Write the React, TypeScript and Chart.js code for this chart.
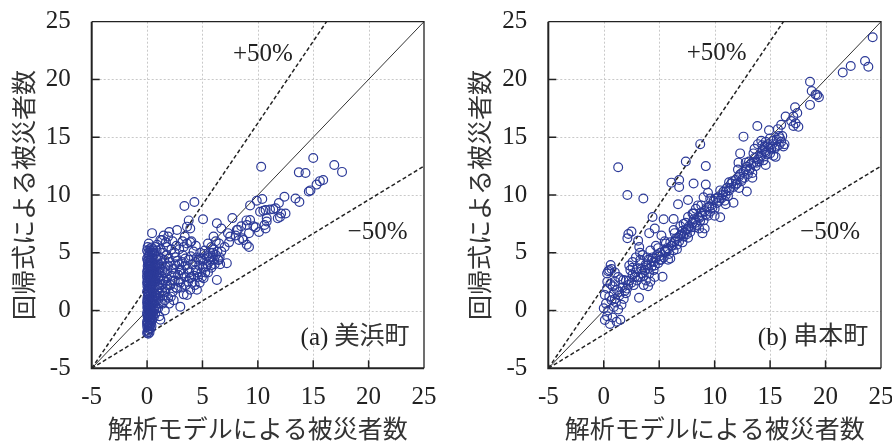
import React, { useEffect, useRef } from 'react';
import { Chart, registerables } from 'chart.js';

Chart.register(...registerables);

// ---------- data ----------
const AXIS_MIN = -5;
const AXIS_MAX = 25;
const AXIS_STEP = 5;
const GRID_VALUES = [0, 5, 10, 15, 20];
const TICK_MARK_VALUES = [0, 5, 10, 15, 20];

const X_TITLE = '解析モデルによる被災者数';
const Y_TITLE = '回帰式による被災者数';
const PLUS_LABEL = '+50%';
const MINUS_LABEL = '−50%';
const PANEL_A_TAG = '(a) ';
const PANEL_A_NAME = '美浜町';
const PANEL_B_TAG = '(b) ';
const PANEL_B_NAME = '串本町';

const EQUAL_LINE: [number, number][] = [[-5, -5], [25, 25]];
const PLUS_LINE: [number, number][] = [[-5, -5], [16.2, 25]];
const MINUS_LINE: [number, number][] = [[-5, -5], [25, 12.5]];

const mihamaPoints: [number, number][] = [
  [0.0, -1.95], [0.05, -1.75], [0.12, -2.0], [0.18, -1.6], [0.02, -1.45], [0.25, -1.3], [0.08, -1.15], [0.35, -1.1],
  [0.0, -0.95], [0.15, -0.8], [0.28, -0.7], [0.45, -0.85], [0.05, -0.55], [0.2, -0.35], [0.38, -0.45], [0.0, -0.2],
  [0.12, 0.0], [0.3, 0.05], [0.48, -0.15], [0.02, 0.3], [0.18, 0.4], [0.35, 0.5], [0.52, 0.25], [0.0, 0.7],
  [0.1, 0.9], [0.25, 0.8], [0.42, 1.0], [0.05, 1.2], [0.2, 1.3], [0.36, 1.45], [0.0, 1.65], [0.14, 1.75],
  [0.3, 1.9], [0.48, 1.65], [0.03, 2.1], [0.18, 2.25], [0.38, 2.35], [0.06, 2.6], [0.22, 2.7], [0.44, 2.85],
  [0.0, 3.0], [0.14, 3.2], [0.32, 3.3], [0.06, 3.6], [0.24, 3.8], [0.45, 3.55], [0.1, 4.1], [0.3, 4.3],
  [0.0, 4.5], [0.18, 4.8], [0.42, 4.6], [0.1, 5.0], [0.32, 5.2], [0.05, 5.5], [0.15, 5.8], [0.45, 6.7],
  [0.0, -1.2], [0.1, -0.4], [0.2, 0.2], [0.05, 0.5], [0.3, 1.1], [0.15, 1.5], [0.0, 2.4], [0.25, 2.0],
  [0.4, 3.0], [0.1, 3.4], [0.3, 3.9], [0.2, 4.4],
  [0.08, -1.85], [0.22, -1.9], [0.32, -1.55], [0.4, -1.35], [0.15, -1.35], [0.05, -1.05], [0.22, -1.0], [0.32, -0.9],
  [0.1, -0.65], [0.4, -0.6], [0.25, -0.5], [0.02, -0.35], [0.34, -0.2], [0.18, -0.1], [0.05, 0.15], [0.4, 0.2],
  [0.25, 0.35], [0.12, 0.6], [0.45, 0.65], [0.3, 0.75], [0.02, 0.95], [0.18, 1.05], [0.48, 1.25], [0.1, 1.45],
  [0.28, 1.6], [0.42, 1.8], [0.08, 1.9], [0.2, 2.05], [0.32, 2.15], [0.48, 2.2], [0.1, 2.35], [0.3, 2.5],
  [0.5, 2.5], [0.02, 2.8], [0.35, 2.65], [0.15, 2.95], [0.25, 3.1], [0.45, 3.2], [0.0, 3.35], [0.35, 3.5],
  [0.2, 3.55], [0.05, 3.85], [0.4, 3.75], [0.15, 3.95], [0.45, 4.05], [0.25, 4.15], [0.05, 4.3], [0.35, 4.5],
  [0.12, 4.65], [0.28, 4.9], [0.48, 5.0], [0.2, 5.3], [0.4, 5.45], [0.0, 5.2],
  [0.6, -0.6], [0.72, -0.3], [0.58, 0.6], [0.66, 1.2], [0.8, 0.9], [0.6, 2.0], [0.75, 2.5], [0.9, 1.8],
  [0.62, 3.1], [0.82, 3.4], [0.7, 4.0], [0.92, 4.4], [0.66, 4.9], [0.86, 5.2], [0.9, 5.7], [1.0, 0.2],
  [1.1, -0.5], [1.2, -0.8], [1.02, 1.0], [1.12, 1.5], [1.25, 2.2], [1.0, 2.8], [1.3, 3.0], [1.15, 3.6],
  [1.32, 4.1], [1.02, 4.7], [1.22, 5.3], [1.35, 6.1], [1.5, 6.5], [1.2, 6.1], [1.4, 0.6], [1.5, 1.3],
  [0.55, -0.2], [0.65, 0.1], [0.75, 0.4], [0.85, 0.2], [0.55, 1.0], [0.7, 1.5], [0.85, 1.3], [0.95, 2.2],
  [0.55, 2.6], [0.68, 2.9], [0.8, 3.0], [0.95, 3.1], [0.55, 3.7], [0.75, 3.8], [0.9, 3.9], [0.6, 4.4],
  [0.8, 4.6], [0.55, 5.3], [0.75, 5.5], [1.05, 0.6], [1.2, 1.2], [1.35, 1.7], [1.1, 2.0], [1.2, 2.6],
  [1.4, 2.3], [1.05, 3.3], [1.4, 3.5], [1.1, 4.0], [1.25, 4.5], [1.45, 5.0], [1.6, 0.9], [1.65, 1.6],
  [1.8, 2.2], [1.7, 2.5], [1.85, 3.4], [1.65, 3.8], [1.95, 4.5], [1.7, 5.9], [1.9, 6.4],
  [1.6, 0.0], [1.7, 1.9], [1.45, 2.6], [1.6, 3.3], [1.8, 2.8], [1.55, 4.4], [1.75, 4.8], [1.9, 3.9],
  [1.9, 1.1], [2.0, 0.6], [2.1, 2.2], [2.2, 3.0], [2.05, 4.2], [2.3, 1.6], [2.4, 0.9], [2.5, 2.6],
  [2.35, 3.6], [2.6, 4.6], [2.2, 5.3], [2.7, 1.9], [2.8, 3.1], [2.9, 4.0], [2.65, 5.6], [2.7, 6.97],
  [2.5, 5.0], [1.8, 5.5], [2.9, 5.3],
  [2.15, 1.2], [2.3, 2.6], [2.45, 3.2], [2.6, 2.0], [2.55, 4.0], [2.75, 4.3], [2.85, 2.5], [2.95, 3.5],
  [3.1, 2.0], [3.15, 4.2], [3.3, 3.2], [3.45, 4.5], [3.5, 2.2], [3.65, 3.6], [3.85, 2.8], [3.95, 4.7],
  [4.1, 2.4], [4.25, 3.0], [4.35, 4.2], [4.55, 3.3], [4.65, 4.4], [4.75, 2.4], [4.85, 4.5], [4.95, 2.9],
  [5.05, 3.7], [5.15, 4.9], [5.25, 3.3], [5.45, 4.0], [5.6, 4.6], [5.75, 3.9], [5.95, 5.0], [6.05, 4.4],
  [6.35, 5.1], [6.55, 4.6], [7.0, 5.5], [7.4, 5.9], [8.0, 6.5], [8.5, 7.3], [3.9, 7.1], [3.4, 6.4],
  [2.3, 6.0], [2.0, 6.8],
  [3.0, 0.33], [3.0, 2.4], [3.1, 3.5], [3.2, 4.8], [3.3, 1.4], [3.4, 2.9], [3.5, 3.9], [3.3, 5.5],
  [3.6, 1.35], [3.7, 2.5], [3.8, 3.3], [3.75, 4.4], [3.6, 5.8], [3.9, 1.8], [4.0, 2.9], [4.1, 4.0],
  [4.2, 5.1], [4.3, 2.2], [4.4, 3.5], [4.5, 1.8], [4.5, 4.6], [4.6, 2.9], [4.7, 3.9], [4.8, 5.0],
  [4.9, 3.3], [3.37, 9.05], [4.27, 9.4], [3.76, 7.8], [3.6, 7.26], [5.05, 7.9], [3.9, 5.9], [4.4, 5.6],
  [4.0, 6.0], [3.2, 6.0],
  [5.0, 4.3], [5.1, 2.8], [5.2, 5.2], [5.3, 3.8], [5.4, 4.7], [5.5, 3.3], [5.6, 4.2], [5.7, 5.0],
  [5.8, 3.7], [5.9, 4.6], [6.0, 5.3], [6.1, 4.0], [6.3, 2.65], [6.2, 4.8], [6.4, 4.4], [6.5, 5.8],
  [6.6, 4.0], [6.7, 5.1], [7.2, 4.1], [6.47, 4.38], [6.3, 7.55], [6.7, 7.1], [6.0, 6.4], [7.3, 6.7],
  [7.5, 6.4], [7.7, 8.0], [5.5, 5.8], [6.2, 6.0], [5.8, 5.5],
  [8.2, 7.0], [8.3, 6.1], [8.7, 6.1], [9.0, 5.7], [9.2, 5.5], [8.97, 7.8], [9.0, 7.4], [9.2, 6.7],
  [9.6, 7.3], [10.1, 6.8], [9.3, 9.1], [9.9, 9.5], [10.4, 9.65], [10.2, 8.55], [10.7, 8.7], [11.1, 8.75],
  [11.6, 8.85], [10.8, 7.7], [10.7, 7.1], [11.9, 9.3], [12.0, 8.1], [12.5, 8.4], [12.4, 9.85], [8.1, 6.97],
  [8.6, 6.25], [10.6, 7.4], [10.8, 7.98], [11.8, 7.98], [12.1, 8.4], [9.8, 7.2], [10.5, 8.64], [11.4, 8.76],
  [9.3, 7.84], [10.3, 12.45],
  [13.4, 9.7], [13.75, 9.4], [14.6, 10.3], [14.75, 10.4], [15.3, 10.9], [15.9, 11.3], [15.6, 11.2], [13.7, 11.96],
  [14.3, 11.9], [15.0, 13.2], [16.9, 12.6], [17.6, 12.0],
];

const kushimotoPoints: [number, number][] = [
  [0.1, -0.82], [0.56, -1.17], [1.16, -0.97], [1.5, -0.8], [0.3, -0.5], [0.8, -0.6], [0.0, 0.2], [0.4, 0.0],
  [0.9, 0.3], [1.3, 0.1], [0.2, 0.6], [0.7, 0.9], [1.1, 0.7], [1.6, 0.5], [0.1, 1.35], [0.5, 1.2],
  [0.9, 1.5], [1.4, 1.3], [1.8, 1.0], [0.3, 1.9], [0.8, 2.1], [1.2, 1.8], [1.7, 2.0], [0.6, 2.3],
  [1.0, 2.5], [1.5, 2.7], [0.32, 2.5], [2.0, 1.5], [2.2, 2.2],
  [0.62, 3.94], [0.5, 3.5], [0.4, 3.4], [0.7, 3.6], [0.3, 3.2], [1.0, 3.3], [1.3, 2.9],
  [1.77, 2.64], [2.4, 3.5], [2.8, 2.9], [3.27, 4.1], [3.7, 3.5], [4.0, 4.4], [4.3, 3.8], [2.1, 1.9],
  [2.5, 2.4], [2.6, 3.1], [3.0, 2.6], [3.0, 3.6], [3.3, 2.9], [3.5, 3.2], [3.8, 2.6], [3.9, 3.9],
  [4.1, 3.2], [4.2, 2.5], [4.4, 4.6], [4.6, 3.9], [4.5, 4.2], [4.8, 4.8], [4.9, 4.1], [5.07, 4.38],
  [5.1, 5.0], [3.18, 1.1], [5.3, 2.93], [2.6, 4.2], [2.9, 4.6], [3.5, 4.8], [4.2, 5.2], [4.7, 5.6],
  [2.3, 3.9], [3.6, 2.2], [4.6, 2.9], [4.0, 2.1],
  [1.0, 1.0], [1.4, 1.6], [1.9, 1.7], [2.3, 2.6], [2.7, 2.2], [2.9, 3.3], [3.1, 2.9], [3.4, 3.6],
  [3.6, 3.0], [3.8, 4.0], [4.0, 3.6], [4.3, 4.3], [4.5, 3.5], [4.7, 4.5], [5.0, 4.7], [5.2, 4.4],
  [2.0, 2.6], [2.6, 3.7], [3.3, 4.4], [3.9, 4.6], [4.9, 5.4],
  [5.4, 4.6], [5.6, 5.1], [5.7, 5.4], [5.9, 4.9], [6.1, 5.6], [6.3, 5.2], [6.6, 5.7], [6.5, 6.2],
  [6.8, 6.0], [7.0, 6.6], [7.2, 6.4], [7.4, 7.0], [7.5, 6.6], [7.7, 7.3], [7.8, 6.8], [8.0, 7.6],
  [8.2, 7.2], [8.4, 7.4], [8.5, 8.1], [8.7, 7.8], [8.8, 8.5], [9.0, 7.8], [9.1, 8.6], [9.3, 8.9],
  [9.4, 8.2], [9.6, 8.56], [9.7, 9.1], [9.9, 9.5], [10.0, 8.8], [10.2, 9.3], [10.3, 9.8], [10.5, 8.07],
  [8.9, 6.7], [9.1, 7.1], [6.0, 4.5], [7.1, 5.9],
  [5.5, 5.2], [5.8, 5.3], [6.0, 5.9], [6.2, 5.6], [6.4, 6.0], [6.7, 6.3], [6.9, 6.5], [7.1, 6.9],
  [7.3, 6.7], [7.6, 7.1], [7.9, 7.2], [8.1, 7.9], [8.3, 7.6], [8.6, 8.0], [8.9, 8.2], [9.2, 8.3],
  [9.5, 9.0], [9.8, 8.9], [10.1, 9.7], [10.4, 9.5], [5.6, 5.8], [6.4, 6.7], [6.9, 7.3], [7.4, 7.6],
  [8.1, 8.4], [8.8, 9.1], [9.6, 9.7], [5.8, 4.4], [6.6, 5.3], [7.6, 6.3], [8.6, 7.1], [10.0, 8.2],
  [2.13, 10.0], [3.57, 9.7], [1.3, 12.4], [6.1, 11.07], [6.8, 11.3], [6.8, 10.7], [8.1, 11.0], [9.2, 10.9],
  [6.7, 9.2], [7.6, 9.57], [8.5, 9.1], [4.4, 8.1], [5.4, 7.9], [6.3, 7.92], [4.6, 7.1], [4.1, 6.7],
  [2.5, 6.83], [2.22, 6.63], [2.13, 6.25], [3.1, 6.05], [3.2, 5.5], [3.27, 5.0], [7.4, 12.9], [8.7, 14.4],
  [9.2, 12.5], [6.3, 6.97], [5.2, 6.5], [5.5, 6.0], [7.2, 7.5], [7.6, 8.1], [8.0, 8.4], [8.3, 8.8],
  [9.0, 9.8], [9.4, 10.2],
  [10.6, 9.7], [10.8, 10.3], [11.0, 10.0], [11.1, 10.6], [11.3, 10.4], [11.5, 11.0], [11.7, 10.7], [11.7, 9.33],
  [11.9, 11.3], [12.0, 11.0], [12.2, 11.6], [12.4, 11.2], [12.6, 12.0], [12.9, 10.3], [12.9, 12.45], [13.0, 11.8],
  [13.2, 12.3], [13.4, 11.9], [13.5, 12.8], [13.7, 12.5], [13.9, 13.1], [14.0, 12.9], [14.2, 13.4], [14.4, 13.0],
  [14.5, 13.8], [14.7, 13.5], [14.9, 14.1], [15.0, 13.6], [12.15, 12.8], [12.3, 13.6], [12.6, 15.05], [13.85, 15.97],
  [14.9, 15.6], [13.6, 14.0], [13.9, 14.4], [14.2, 14.7], [14.5, 14.2], [15.2, 14.4], [15.4, 14.0], [15.6, 14.8],
  [15.8, 14.3], [16.0, 14.6], [16.2, 14.2], [15.3, 13.4], [15.5, 13.3], [11.2, 9.9], [10.9, 9.5], [12.7, 11.5],
  [13.1, 12.9], [14.6, 14.6], [15.8, 15.1],
  [10.7, 10.0], [11.0, 10.3], [11.4, 10.6], [11.6, 11.2], [11.9, 10.9], [12.3, 11.8], [12.5, 11.4], [12.8, 12.2],
  [13.1, 12.1], [13.3, 12.7], [13.6, 13.2], [13.8, 12.8], [14.1, 13.3], [14.3, 13.9], [14.6, 13.7], [14.8, 14.4],
  [15.1, 14.0], [15.3, 14.7], [15.6, 14.2], [15.9, 14.9], [16.1, 15.1], [16.3, 14.4], [10.5, 10.4], [11.3, 11.1],
  [12.1, 12.2], [12.8, 12.8], [13.5, 13.6], [14.3, 14.3], [15.0, 14.9], [11.0, 9.2], [12.2, 10.6], [13.4, 11.5],
  [14.6, 12.6],
  [16.4, 16.8], [16.0, 16.07], [15.7, 15.7], [17.25, 17.6], [17.45, 17.1], [17.1, 16.8], [17.55, 15.9], [17.1, 15.97],
  [16.9, 16.4], [17.3, 16.2], [18.6, 19.8], [18.75, 19.0], [19.25, 18.66], [19.4, 18.46], [19.1, 18.7], [18.6, 17.8],
  [21.55, 20.6], [22.27, 21.17], [23.56, 21.6], [23.86, 21.1], [24.25, 23.65],
];

// annotation anchors in data units (x = left/right edge, y = text baseline)
const PANEL_A_ANCHORS = { plus: [7.75, 21.6], minus: [18.1, 6.15], tag: [23.7, -2.95] };
const PANEL_B_ANCHORS = { plus: [7.48, 21.7], minus: [17.7, 6.2], tag: [23.85, -3.0] };

// ---------- styling ----------
const SERIF = '"Liberation Serif", "Times New Roman", serif';
const CJK = '"Noto Sans CJK JP", "Noto Sans", sans-serif';
const POINT_COLOR = 'rgb(44,58,152)';
const INK = '#222';

type PanelCfg = {
  points: [number, number][];
  tag: string;
  name: string;
  anchors: { plus: number[]; minus: number[]; tag: number[] };
  yAxisWidth: number;
  padRight: number;
  yTitlePad: number;
};

const toXY = (arr: [number, number][]) => arr.map(([x, y]) => ({ x, y }));

function makeChart(canvas: HTMLCanvasElement, cfg: PanelCfg) {
  const decor = {
    id: 'decor',
    beforeDatasetsDraw(chart: any) {
      const { ctx, chartArea: a, scales } = chart;
      const xs = scales.x;
      const ys = scales.y;
      ctx.save();
      ctx.strokeStyle = '#c9c9c9';
      ctx.lineWidth = 1;
      ctx.setLineDash([2, 2]);
      for (const v of GRID_VALUES) {
        const px = Math.round(xs.getPixelForValue(v)) + 0.5;
        ctx.beginPath();
        ctx.moveTo(px, a.top);
        ctx.lineTo(px, a.bottom);
        ctx.stroke();
        const py = Math.round(ys.getPixelForValue(v)) + 0.5;
        ctx.beginPath();
        ctx.moveTo(a.left, py);
        ctx.lineTo(a.right, py);
        ctx.stroke();
      }
      ctx.restore();
    },
    afterDatasetsDraw(chart: any) {
      const { ctx, chartArea: a, scales } = chart;
      const xs = scales.x;
      const ys = scales.y;
      ctx.save();
      ctx.setLineDash([]);
      ctx.strokeStyle = INK;
      ctx.lineWidth = 1.5;
      for (const v of TICK_MARK_VALUES) {
        const px = xs.getPixelForValue(v);
        ctx.beginPath();
        ctx.moveTo(px, a.bottom);
        ctx.lineTo(px, a.bottom - 8);
        ctx.stroke();
        const py = ys.getPixelForValue(v);
        ctx.beginPath();
        ctx.moveTo(a.left, py);
        ctx.lineTo(a.left + 8, py);
        ctx.stroke();
      }
      // frame
      ctx.lineWidth = 1.3;
      ctx.beginPath();
      ctx.moveTo(a.left, a.top);
      ctx.lineTo(a.right, a.top);
      ctx.lineTo(a.right, a.bottom);
      ctx.stroke();
      ctx.lineWidth = 2;
      ctx.beginPath();
      ctx.moveTo(a.left, a.top);
      ctx.lineTo(a.left, a.bottom);
      ctx.lineTo(a.right, a.bottom);
      ctx.stroke();

      // annotations
      ctx.fillStyle = INK;
      ctx.textBaseline = 'alphabetic';
      ctx.textAlign = 'left';
      ctx.font = `25px ${SERIF}`;
      ctx.fillText(PLUS_LABEL, xs.getPixelForValue(cfg.anchors.plus[0]), ys.getPixelForValue(cfg.anchors.plus[1]));
      ctx.fillText(MINUS_LABEL, xs.getPixelForValue(cfg.anchors.minus[0]), ys.getPixelForValue(cfg.anchors.minus[1]));
      const tagW = ctx.measureText(cfg.tag).width;
      ctx.font = `25px ${CJK}`;
      const nameW = ctx.measureText(cfg.name).width;
      const right = xs.getPixelForValue(cfg.anchors.tag[0]);
      const ty = ys.getPixelForValue(cfg.anchors.tag[1]);
      const start = right - tagW - nameW;
      ctx.font = `25px ${SERIF}`;
      ctx.fillText(cfg.tag, start, ty);
      ctx.font = `25px ${CJK}`;
      ctx.fillStyle = '#333';
      ctx.fillText(cfg.name, start + tagW, ty - 1);
      ctx.restore();
    },
  };

  const lineDs = (pts: [number, number][], dash: number[], width: number, color: string) => ({
    type: 'scatter' as const,
    data: toXY(pts),
    showLine: true,
    borderColor: color,
    borderWidth: width,
    borderDash: dash,
    pointRadius: 0,
    fill: false,
    order: 2,
  });

  return new Chart(canvas, {
    type: 'scatter',
    data: {
      datasets: [
        {
          data: toXY(cfg.points),
          pointStyle: 'circle',
          pointRadius: 4.4,
          borderWidth: 1.2,
          borderColor: POINT_COLOR,
          backgroundColor: 'rgba(0,0,0,0)',
          order: 1,
        } as any,
        lineDs(EQUAL_LINE, [], 1, '#333'),
        lineDs(PLUS_LINE, [4, 2.5], 1.5, INK),
        lineDs(MINUS_LINE, [4, 2.5], 1.5, INK),
      ],
    },
    options: {
      responsive: false,
      animation: false,
      events: [],
      layout: { padding: { left: 0, right: cfg.padRight, top: 21.7, bottom: 0 } },
      plugins: { legend: { display: false }, tooltip: { enabled: false } },
      scales: {
        x: {
          type: 'linear',
          min: AXIS_MIN,
          max: AXIS_MAX,
          grid: { display: false, drawTicks: false },
          border: { display: false },
          ticks: {
            stepSize: AXIS_STEP,
            autoSkip: false,
            maxRotation: 0,
            padding: 14,
            color: INK,
            font: { family: SERIF, size: 25 },
          },
          title: {
            display: true,
            text: X_TITLE,
            color: '#333',
            font: { family: CJK, size: 25, lineHeight: 1 },
            padding: { top: 0, bottom: 0 },
          },
          afterFit: (s: any) => {
            s.height = 72.7;
            s.paddingLeft = 0;
            s.paddingRight = 0;
          },
        },
        y: {
          type: 'linear',
          min: AXIS_MIN,
          max: AXIS_MAX,
          grid: { display: false, drawTicks: false },
          border: { display: false },
          ticks: {
            stepSize: AXIS_STEP,
            autoSkip: false,
            padding: 21,
            color: INK,
            font: { family: SERIF, size: 25 },
          },
          title: {
            display: true,
            text: Y_TITLE,
            color: '#333',
            font: { family: CJK, size: 25, lineHeight: 1 },
            padding: { top: cfg.yTitlePad, bottom: 0 },
          },
          afterFit: (s: any) => {
            s.width = cfg.yAxisWidth;
            s.paddingTop = 0;
            s.paddingBottom = 0;
          },
        },
      },
    },
    plugins: [decor],
  } as any);
}

const PANELS: PanelCfg[] = [
  { points: mihamaPoints, tag: PANEL_A_TAG, name: PANEL_A_NAME, anchors: PANEL_A_ANCHORS, yAxisWidth: 91.7, padRight: 22, yTitlePad: 11 },
  { points: kushimotoPoints, tag: PANEL_B_TAG, name: PANEL_B_NAME, anchors: PANEL_B_ANCHORS, yAxisWidth: 102.3, padRight: 11, yTitlePad: 21 },
];

function Panel({ cfg }: { cfg: PanelCfg }) {
  const ref = useRef<HTMLCanvasElement>(null);
  useEffect(() => {
    if (!ref.current) return;
    const chart = makeChart(ref.current, cfg);
    return () => chart.destroy();
  }, [cfg]);
  return <canvas ref={ref} width={446} height={441} style={{ display: 'block', width: 446, height: 441 }} />;
}

export default function App() {
  return (
    <div style={{ position: 'fixed', left: 0, top: 0, width: 892, height: 441, background: '#fff', display: 'flex' }}>
      {PANELS.map((p, i) => (
        <Panel key={i} cfg={p} />
      ))}
    </div>
  );
}
